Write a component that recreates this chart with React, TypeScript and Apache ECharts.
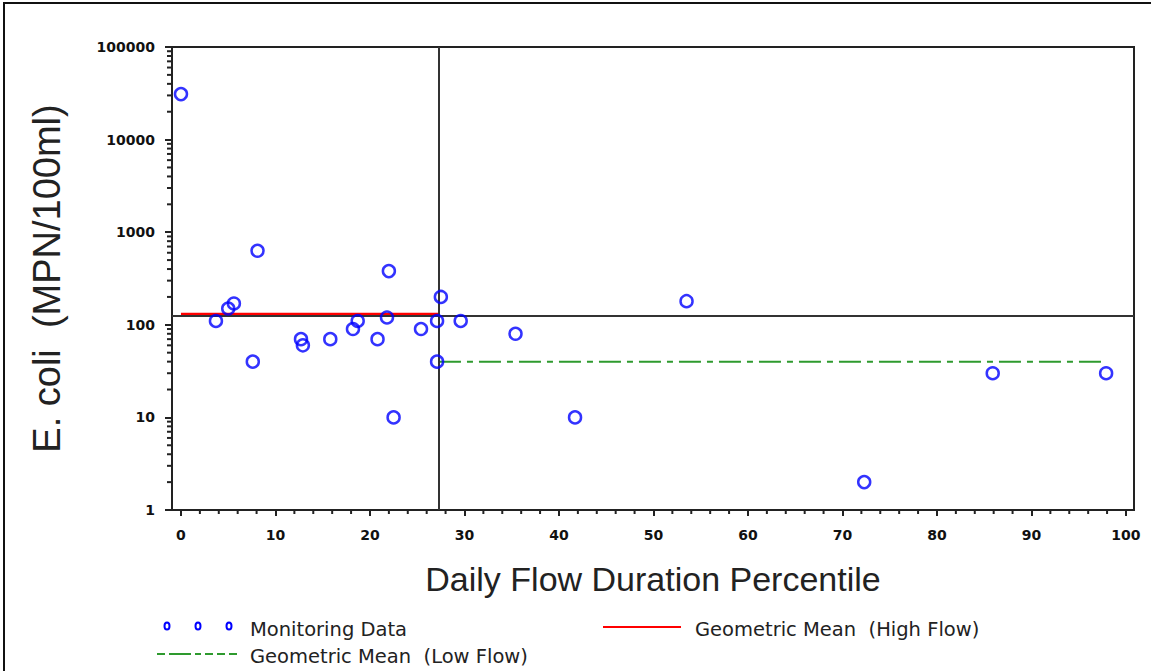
import React, { useEffect, useRef } from "react";
import * as echarts from "echarts";

const flowPercentile = [0, 3.7, 5.0, 5.6, 7.6, 8.1, 12.7, 12.9, 15.8, 18.2, 18.7, 20.8, 21.8, 22.0, 22.5, 25.4, 27.1, 27.1, 27.5, 29.6, 35.4, 41.7, 53.5, 72.3, 85.9, 97.9];
const ecoli = [31000, 110, 150, 170, 40, 630, 70, 60, 70, 90, 110, 70, 120, 380, 10, 90, 110, 40, 200, 110, 80, 10, 180, 2, 30, 30];

const standardValue = 126;
const flowSplit = 27.3;
const highFlowMean = 128;
const highFlowRange = [0, 27.3];
const lowFlowMean = 40;
const lowFlowRange = [27.3, 97.9];

const xTickValues = [0, 10, 20, 30, 40, 50, 60, 70, 80, 90, 100];
const xMinorTickValues = [2, 4, 6, 8, 12, 14, 16, 18, 22, 24, 26, 28, 32, 34, 36, 38, 42, 44, 46, 48, 52, 54, 56, 58, 62, 64, 66, 68, 72, 74, 76, 78, 82, 84, 86, 88, 92, 94, 96, 98];
const yMinorTickValues = [
  2, 3, 4, 5, 6, 7, 8, 9,
  20, 30, 40, 50, 60, 70, 80, 90,
  200, 300, 400, 500, 600, 700, 800, 900,
  2000, 3000, 4000, 5000, 6000, 7000, 8000, 9000,
  20000, 30000, 40000, 50000, 60000, 70000, 80000, 90000,
];

const X_MIN = -0.95;
const X_MAX = 100.85;
const Y_MIN = 1;
const Y_MAX = 100000;

const FONT = "'Liberation Sans', Arial, sans-serif";
const TICK_FONT = "'DejaVu Sans', sans-serif";

export default function App() {
  const ref = useRef<HTMLDivElement>(null);

  useEffect(() => {
    document.body.style.margin = "0";
    if (!ref.current) return;
    const chart = echarts.init(ref.current, null, { renderer: "svg" });

    const option: any = {
      animation: false,
      backgroundColor: "#ffffff",
      grid: {
        left: 172,
        top: 47,
        right: 17,
        bottom: 161,
        show: true,
        borderColor: "#222",
        borderWidth: 2,
        backgroundColor: "transparent",
      },
      xAxis: {
        type: "value",
        min: X_MIN,
        max: X_MAX,
        name: "Daily Flow Duration Percentile",
        nameLocation: "middle",
        nameGap: 52,
        nameTextStyle: { fontFamily: FONT, fontSize: 34, color: "#222" },
        axisLine: { show: true, onZero: false, lineStyle: { color: "#222", width: 2 } },
        axisTick: { show: true, inside: false, length: 6, customValues: xTickValues, lineStyle: { color: "#222", width: 2 } },
        axisLabel: { show: true, customValues: xTickValues, fontFamily: TICK_FONT, fontSize: 14, fontWeight: "bold", color: "#111", margin: 18 },
        splitLine: { show: false },
      },
      yAxis: {
        type: "log",
        logBase: 10,
        min: Y_MIN,
        max: Y_MAX,
        splitNumber: 5,
        name: "E. coli  (MPN/100ml)",
        nameLocation: "middle",
        nameGap: 106,
        nameRotate: 90,
        nameTextStyle: { fontFamily: FONT, fontSize: 38, color: "#222" },
        axisLine: { show: true, onZero: false, lineStyle: { color: "#222", width: 2 } },
        axisTick: { show: true, inside: false, length: 7, lineStyle: { color: "#222", width: 2 } },
        axisLabel: {
          show: true,
          fontFamily: TICK_FONT,
          fontSize: 14,
          fontWeight: "bold",
          color: "#111",
          margin: 17,
          formatter: (v: number) => String(Math.round(v)),
        },
        splitLine: { show: false },
      },
      series: [
        {
          type: "custom",
          name: "yMinorTicks",
          silent: true,
          clip: false,
          data: yMinorTickValues.map((v) => [X_MIN, v]),
          renderItem: (params: any, api: any) => {
            const p = api.coord([api.value(0), api.value(1)]);
            return {
              type: "line",
              shape: { x1: p[0] - 5, y1: p[1], x2: p[0], y2: p[1] },
              style: { stroke: "#222", lineWidth: 2 },
            };
          },
        },
        {
          type: "custom",
          name: "xMinorTicks",
          silent: true,
          clip: false,
          data: xMinorTickValues.map((v) => [v, Y_MIN]),
          renderItem: (params: any, api: any) => {
            const p = api.coord([api.value(0), api.value(1)]);
            return {
              type: "line",
              shape: { x1: p[0], y1: p[1], x2: p[0], y2: p[1] + 4 },
              style: { stroke: "#222", lineWidth: 2 },
            };
          },
        },
        {
          type: "line",
          name: "Reference",
          data: [],
          silent: true,
          markLine: {
            silent: true,
            symbol: "none",
            label: { show: false },
            lineStyle: { color: "#333", width: 2, type: "solid" },
            data: [{ yAxis: standardValue }, { xAxis: flowSplit }],
          },
        },
        {
          type: "line",
          name: "Geometric Mean (High Flow)",
          data: [
            [highFlowRange[0], highFlowMean],
            [highFlowRange[1], highFlowMean],
          ],
          showSymbol: false,
          symbol: "none",
          lineStyle: { color: "#ff0000", width: 4 },
          z: 3,
        },
        {
          type: "line",
          name: "Geometric Mean (Low Flow)",
          data: [
            [lowFlowRange[0], lowFlowMean],
            [lowFlowRange[1], lowFlowMean],
          ],
          showSymbol: false,
          symbol: "none",
          lineStyle: { color: "#2e9a2e", width: 2, type: [22, 6, 6, 6] },
          z: 3,
        },
        {
          type: "scatter",
          name: "Monitoring Data",
          data: flowPercentile.map((x, i) => [x, ecoli[i]]),
          symbol: "circle",
          symbolSize: 12,
          itemStyle: { color: "rgba(0,0,0,0)", borderColor: "#0000ff", borderWidth: 2.5 },
          z: 5,
        },
      ],
      graphic: [
        {
          type: "rect",
          shape: { x: 4, y: 3, width: 1200, height: 720 },
          style: { fill: "none", stroke: "#111", lineWidth: 2 },
          silent: true,
        },
        { type: "ellipse", shape: { cx: 167, cy: 626, rx: 2.5, ry: 3.5 }, style: { fill: "none", stroke: "#0000ff", lineWidth: 2 } },
        { type: "ellipse", shape: { cx: 198, cy: 626, rx: 2.5, ry: 3.5 }, style: { fill: "none", stroke: "#0000ff", lineWidth: 2 } },
        { type: "ellipse", shape: { cx: 229, cy: 626, rx: 2.5, ry: 3.5 }, style: { fill: "none", stroke: "#0000ff", lineWidth: 2 } },
        {
          type: "text",
          x: 250,
          y: 629,
          style: { text: "Monitoring Data", fontFamily: TICK_FONT, fontSize: 19.5, fill: "#222", verticalAlign: "middle", align: "left" },
        },
        { type: "line", shape: { x1: 603, y1: 627, x2: 681, y2: 627 }, style: { stroke: "#ff0000", lineWidth: 2 } },
        {
          type: "text",
          x: 695,
          y: 629,
          style: { text: "Geometric Mean  (High Flow)", fontFamily: TICK_FONT, fontSize: 19.5, fill: "#222", verticalAlign: "middle", align: "left" },
        },
        { type: "line", shape: { x1: 157, y1: 654, x2: 237, y2: 654 }, style: { stroke: "#2e9a2e", lineWidth: 2, lineDash: [8, 4, 22, 4, 6, 4, 8, 4] } },
        {
          type: "text",
          x: 250,
          y: 656,
          style: { text: "Geometric Mean  (Low Flow)", fontFamily: TICK_FONT, fontSize: 19.5, fill: "#222", verticalAlign: "middle", align: "left" },
        },
      ],
    };

    chart.setOption(option);
    return () => chart.dispose();
  }, []);

  return <div ref={ref} style={{ width: 1151, height: 671 }} />;
}
